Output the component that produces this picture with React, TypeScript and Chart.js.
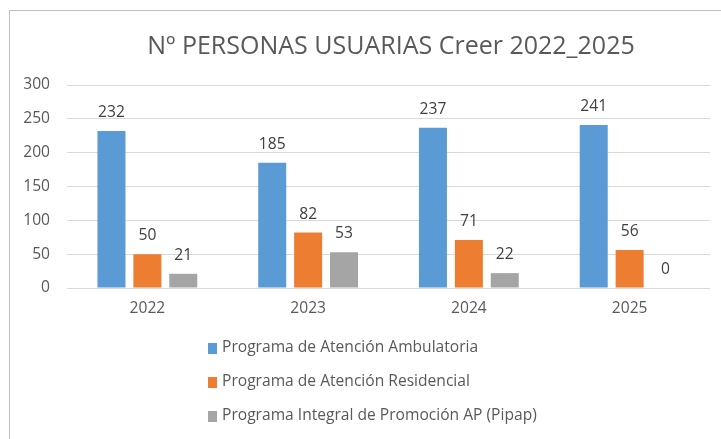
import React, { useEffect, useRef } from "react";
import { Chart, registerables } from "chart.js";

Chart.register(...registerables);

const chartTitle = "Nº PERSONAS USUARIAS Creer 2022_2025";
const categories = ["2022", "2023", "2024", "2025"];
const seriesLabels = [
  "Programa de Atención Ambulatoria",
  "Programa de Atención Residencial",
  "Programa Integral de Promoción AP (Pipap)",
];
const ambulatoria = [232, 185, 237, 241];
const residencial = [50, 82, 71, 56];
const pipap = [21, 53, 22, 0];
const seriesColors = ["#5b9bd5", "#ed7d31", "#a5a5a5"];
const yMin = 0;
const yMax = 300;
const yStep = 50;

const FONT = "'Open Sans', 'Noto Sans', sans-serif";
const TEXT_SIZE = 15.6;

const titlePlugin = {
  id: "customTitle",
  afterDraw(chart: any) {
    const ctx = chart.ctx;
    ctx.save();
    ctx.font = `25px ${FONT}`;
    ctx.fillStyle = "#595959";
    ctx.textAlign = "center";
    ctx.textBaseline = "alphabetic";
    ctx.fillText(chartTitle, 391, 54);
    ctx.restore();
  },
};

const dataLabelPlugin = {
  id: "valueLabels",
  afterDatasetsDraw(chart: any) {
    const ctx = chart.ctx;
    ctx.save();
    ctx.font = `${TEXT_SIZE}px ${FONT}`;
    ctx.fillStyle = "#404040";
    ctx.textAlign = "center";
    ctx.textBaseline = "alphabetic";
    chart.data.datasets.forEach((ds: any, i: number) => {
      const meta = chart.getDatasetMeta(i);
      meta.data.forEach((el: any, j: number) => {
        ctx.fillText(String(ds.data[j]), el.x, el.y - 14);
      });
    });
    ctx.restore();
  },
};

const legendPlugin = {
  id: "verticalLegend",
  afterDraw(chart: any) {
    const ctx = chart.ctx;
    ctx.save();
    ctx.font = `${TEXT_SIZE}px ${FONT}`;
    ctx.textAlign = "left";
    ctx.textBaseline = "middle";
    const x0 = 208;
    const y0 = 348;
    const dy = 34;
    chart.data.datasets.forEach((ds: any, i: number) => {
      const y = y0 + i * dy;
      ctx.fillStyle = ds.backgroundColor;
      ctx.fillRect(x0, y - 5, 9, 11);
      ctx.fillStyle = "#595959";
      ctx.fillText(ds.label, x0 + 14, y);
    });
    ctx.restore();
  },
};

export default function App() {
  const ref = useRef<HTMLCanvasElement | null>(null);

  useEffect(() => {
    if (!ref.current) return;
    const chart = new Chart(ref.current, {
      type: "bar",
      data: {
        labels: categories,
        datasets: [
          { label: seriesLabels[0], data: ambulatoria, backgroundColor: seriesColors[0] },
          { label: seriesLabels[1], data: residencial, backgroundColor: seriesColors[1] },
          { label: seriesLabels[2], data: pipap, backgroundColor: seriesColors[2] },
        ],
      },
      options: {
        animation: false,
        responsive: false,
        maintainAspectRatio: false,
        datasets: {
          bar: { categoryPercentage: 0.67, barPercentage: 0.78 },
        } as any,
        layout: {
          autoPadding: false,
          padding: { top: 85, right: 11, bottom: 0, left: 0 },
        } as any,
        plugins: {
          legend: { display: false },
          title: { display: false },
          tooltip: { enabled: false },
        },
        scales: {
          x: {
            grid: { display: false, drawTicks: false },
            border: { display: false },
            ticks: {
              color: "#595959",
              font: { family: FONT, size: TEXT_SIZE },
              padding: 11,
            },
            afterFit(scale: any) {
              scale.height = 151;
            },
          },
          y: {
            min: yMin,
            max: yMax,
            grid: { color: "#d9d9d9", drawTicks: false, lineWidth: 1 },
            border: { display: false },
            ticks: {
              stepSize: yStep,
              color: "#595959",
              font: { family: FONT, size: TEXT_SIZE },
              padding: 17,
            },
            afterFit(scale: any) {
              scale.width = 67;
            },
          },
        },
      },
      plugins: [titlePlugin, dataLabelPlugin, legendPlugin],
    });
    return () => chart.destroy();
  }, []);

  return (
    <div
      style={{
        position: "fixed",
        left: 0,
        top: 0,
        width: 721,
        height: 439,
        overflow: "hidden",
        background: "#ffffff",
      }}
    >
      <canvas
        ref={ref}
        width={721}
        height={439}
        style={{ position: "absolute", left: 0, top: 0, width: 721, height: 439 }}
      />
      <div
        style={{
          position: "absolute",
          left: 9,
          top: 10,
          width: 760,
          height: 480,
          borderLeft: "1px solid #bfbfbf",
          borderTop: "1px solid #bfbfbf",
          pointerEvents: "none",
        }}
      />
    </div>
  );
}
